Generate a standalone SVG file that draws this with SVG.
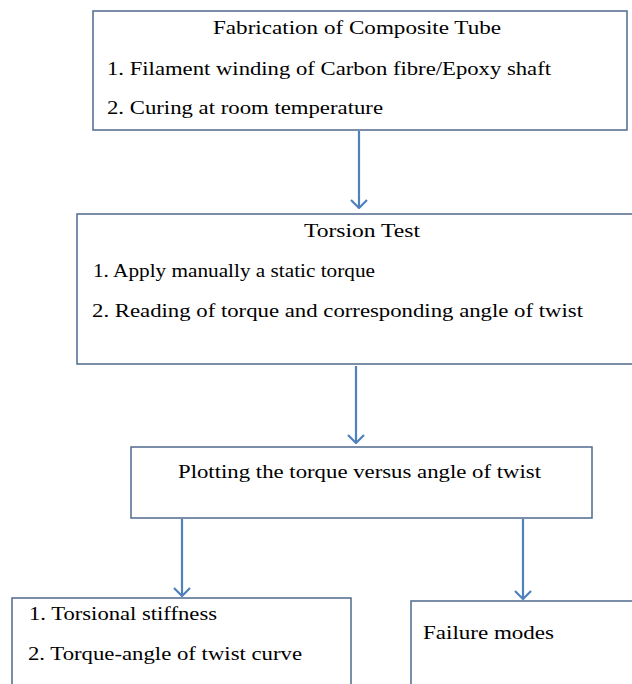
<svg xmlns="http://www.w3.org/2000/svg" width="632" height="684" viewBox="0 0 632 684">
<style>
.box{fill:#fff;stroke:#4f6a8f;stroke-width:1.5}
.t{font-family:"Liberation Serif","DejaVu Serif","Times New Roman",serif;font-size:19px;fill:#000}
.c{fill:none;stroke:#4f81bd;stroke-width:2.2}
</style>
<defs>
<marker id="ah" viewBox="0 0 10 18" refX="9" refY="9" markerWidth="10" markerHeight="18" markerUnits="userSpaceOnUse" orient="auto">
<path d="M1,1 L9,9 L1,17" fill="none" stroke="#4f81bd" stroke-width="2.2"/>
</marker>
</defs>
<rect width="632" height="684" fill="#fff"/>
<g id="connectors">
<path class="c" d="M359,131 V208" marker-end="url(#ah)"/>
<path class="c" d="M356,366 V443" marker-end="url(#ah)"/>
<path class="c" d="M182,519 V596" marker-end="url(#ah)"/>
<path class="c" d="M523,519 V599" marker-end="url(#ah)"/>
</g>
<g id="fabrication">
<rect class="box" x="93" y="11" width="534" height="119"/>
<text class="t" x="213" y="34" textLength="288" lengthAdjust="spacingAndGlyphs">Fabrication of Composite Tube</text>
<text class="t" x="107" y="75" textLength="444" lengthAdjust="spacingAndGlyphs">1. Filament winding of Carbon fibre/Epoxy shaft</text>
<text class="t" x="107" y="114" textLength="276" lengthAdjust="spacingAndGlyphs">2. Curing at room temperature</text>
</g>
<g id="torsion">
<rect class="box" x="77" y="214" width="560" height="150"/>
<text class="t" x="304" y="237" textLength="116" lengthAdjust="spacingAndGlyphs">Torsion Test</text>
<text class="t" x="93" y="277" textLength="282" lengthAdjust="spacingAndGlyphs">1. Apply manually a static torque</text>
<text class="t" x="92" y="317" textLength="491" lengthAdjust="spacingAndGlyphs">2. Reading of torque and corresponding angle of twist</text>
</g>
<g id="plotting">
<rect class="box" x="131" y="447" width="461" height="71"/>
<text class="t" x="178" y="478" textLength="363" lengthAdjust="spacingAndGlyphs">Plotting the torque versus angle of twist</text>
</g>
<g id="stiffness">
<rect class="box" x="12" y="598" width="339" height="100"/>
<text class="t" x="29" y="620" textLength="188" lengthAdjust="spacingAndGlyphs">1. Torsional stiffness</text>
<text class="t" x="28" y="660" textLength="274" lengthAdjust="spacingAndGlyphs">2. Torque-angle of twist curve</text>
</g>
<g id="failure">
<rect class="box" x="411" y="601" width="240" height="100"/>
<text class="t" x="423" y="639" textLength="131" lengthAdjust="spacingAndGlyphs">Failure modes</text>
</g>
</svg>
